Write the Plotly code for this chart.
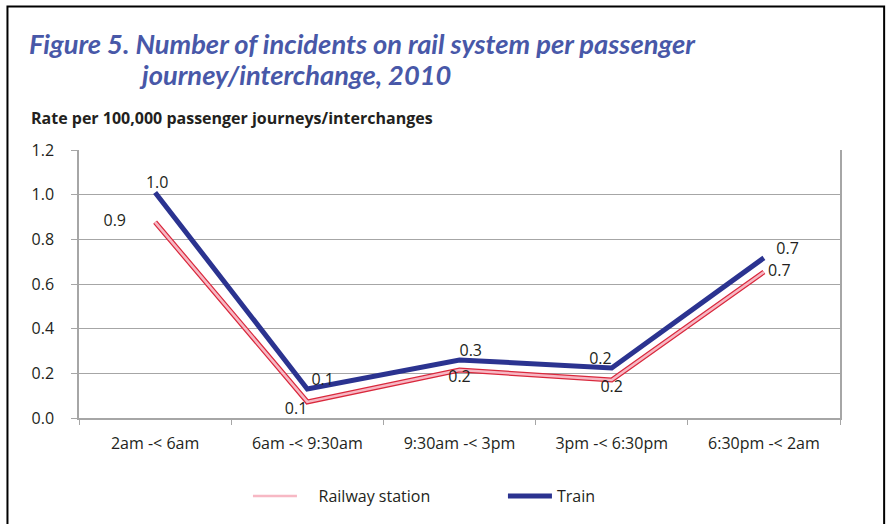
import plotly.graph_objects as go

categories = ["2am -< 6am", "6am -< 9:30am", "9:30am -< 3pm", "3pm -< 6:30pm", "6:30pm -< 2am"]
railway_station = [0.877, 0.072, 0.215, 0.17, 0.654]
train = [1.01, 0.13, 0.26, 0.224, 0.717]
y_ticks = [0.0, 0.2, 0.4, 0.6, 0.8, 1.0, 1.2]

railway_pos = ["middle left", "bottom left", "bottom center", "bottom center", "middle right"]
railway_fmt = ["%{y:.1f}&nbsp;&nbsp;&nbsp;&nbsp;&nbsp;&nbsp;&nbsp;", "%{y:.1f}", "%{y:.1f}", "%{y:.1f}", "&nbsp;%{y:.1f}"]
train_pos = ["top center", "top right", "top right", "top left", "top right"]
train_fmt = ["&nbsp;%{y:.1f}", "&nbsp;%{y:.1f}", "%{y:.1f}", "%{y:.1f}", "&nbsp;&nbsp;&nbsp;%{y:.1f}"]

NAVY = "#2B3390"
RED = "#D9283C"
PINK = "#F7B8C4"
TXT = "#231F20"
GRID = "#A6A6A6"
BASE_FONT = "Open Sans, sans-serif"

fig = go.Figure()
# Railway station: red outline + pink core
fig.add_trace(go.Scatter(x=categories, y=railway_station, mode="lines",
                         line=dict(color=RED, width=5), showlegend=False, hoverinfo="skip"))
fig.add_trace(go.Scatter(x=categories, y=railway_station, mode="lines+text",
                         name="&nbsp;&nbsp;&nbsp;&nbsp;Railway station",
                         line=dict(color=PINK, width=2.6),
                         texttemplate=railway_fmt, textposition=railway_pos,
                         textfont=dict(size=16, color=TXT)))
fig.add_trace(go.Scatter(x=categories, y=train, mode="lines+text", name="Train",
                         line=dict(color=NAVY, width=5),
                         texttemplate=train_fmt, textposition=train_pos,
                         textfont=dict(size=16, color=TXT)))

title_font = "Lato, sans-serif"
fig.add_annotation(xref="paper", yref="paper", x=-0.068, y=1.0, xanchor="left", yanchor="middle",
                   yshift=107, showarrow=False,
                   text="<b><i>Figure 5. Number of incidents on rail system per passenger</i></b>",
                   font=dict(family=title_font, size=27.3, color="#4858A8"))
fig.add_annotation(xref="paper", yref="paper", x=0.076, y=1.0, xanchor="left", yanchor="middle",
                   yshift=76, showarrow=False,
                   text="<b><i>journey/interchange, 2010</i></b>",
                   font=dict(family=title_font, size=27.3, color="#4858A8"))
fig.add_annotation(xref="paper", yref="paper", x=-0.066, y=1.0, xanchor="left", yanchor="middle",
                   yshift=32, showarrow=False,
                   text="<b>Rate per 100,000 passenger journeys/interchanges</b>",
                   font=dict(family=BASE_FONT, size=16, color=TXT))

# outer frame
fig.add_shape(type="rect", xref="paper", yref="paper",
              x0=-0.094, x1=1.058, y0=-0.45, y1=1.5354,
              line=dict(color="black", width=2), fillcolor="rgba(0,0,0,0)")

fig.update_layout(
    width=886, height=524,
    margin=dict(l=79, r=46, t=150, b=106, autoexpand=False),
    paper_bgcolor="white", plot_bgcolor="white",
    font=dict(family=BASE_FONT, size=15, color=TXT),
    showlegend=True,
    legend=dict(orientation="h", x=0.222, xanchor="left", y=-0.228, yanchor="top",
                font=dict(size=16, color=TXT), itemwidth=44, entrywidth=196,
                tracegroupgap=0),
    xaxis=dict(showgrid=False, showline=True, linecolor=GRID, linewidth=1.5,
               range=[-0.5, 4.5],
               ticks="outside", tickson="boundaries", ticklen=5, tickcolor=GRID,
               ticklabelstandoff=10, tickfont=dict(size=16)),
    yaxis=dict(range=[0, 1.2], tickvals=y_ticks, ticktext=[f"{v:.1f}" for v in y_ticks],
               showgrid=True, gridcolor=GRID, gridwidth=1.2,
               showline=True, linecolor=GRID, linewidth=1.5, mirror=True,
               ticks="outside", ticklen=6, tickcolor=GRID, zeroline=False,
               ticklabelstandoff=14, tickfont=dict(size=16)),
)

fig.write_html("out.html", config={"displayModeBar": False},
               post_script="document.body.style.margin='0';document.body.style.overflow='hidden';")
